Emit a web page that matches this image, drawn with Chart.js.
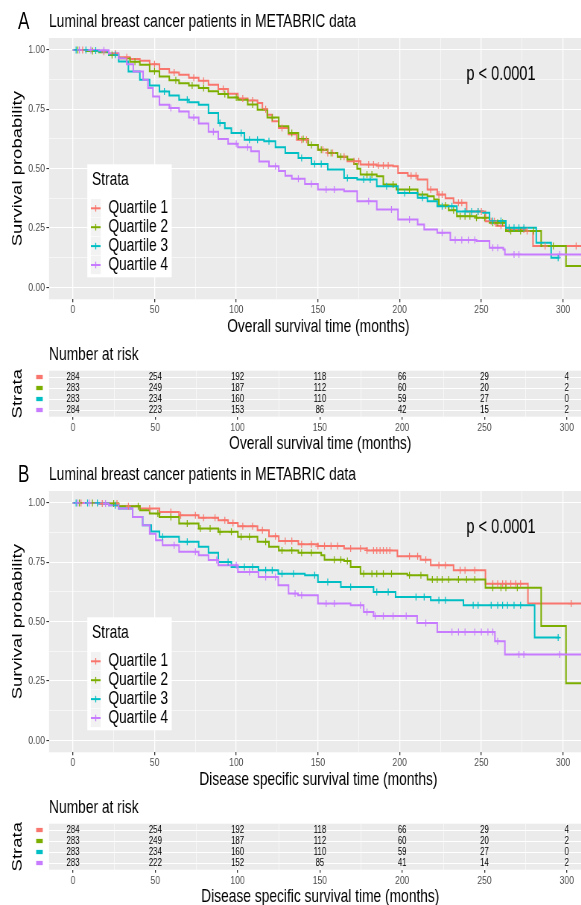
<!DOCTYPE html>
<html>
<head>
<meta charset="utf-8">
<script src="https://cdn.jsdelivr.net/npm/chart.js@4.4.1/dist/chart.umd.min.js"></script>
<style>
  html, body { margin: 0; padding: 0; width: 581px; height: 905px; overflow: hidden; background: #fff; }
  /* the original figure is a wide ggplot squeezed horizontally, so draw wide and squeeze */
  #wrap { position: absolute; left: 0; top: 0; width: 794px; height: 905px; transform: scaleX(0.745); transform-origin: 0 0; }
  canvas { position: absolute; left: 0; }
  .tag { position: absolute; z-index: 2; font: 23px "Liberation Sans", Arial, sans-serif; line-height: 23px; color: #000; }
</style>
</head>
<body>
<div id="wrap">
  <canvas id="kmA" width="794" height="340" style="top:0px"></canvas>
  <canvas id="riskA" width="794" height="113" style="top:340px"></canvas>
  <canvas id="kmB" width="794" height="340" style="top:453px"></canvas>
  <canvas id="riskB" width="794" height="113" style="top:793px"></canvas>
  <div class="tag" style="left:24px; top:10px;">A</div>
  <div class="tag" style="left:24px; top:463px;">B</div>
</div>
<script>
const FONT = '"Liberation Sans", Arial, sans-serif';

// strata + colours (ggplot default hues)
const strata = ['Quartile 1', 'Quartile 2', 'Quartile 3', 'Quartile 4'];
const strataColors = ['#F8766D', '#7CAE00', '#00BFC4', '#C77CFF'];

// axis breaks
const xBreaks = [0, 50, 100, 150, 200, 250, 300];
const xMinor = [25, 75, 125, 175, 225, 275];
const yBreaks = [0, 0.25, 0.5, 0.75, 1];
const yMinor = [0.125, 0.375, 0.625, 0.875];
const riskTimes = [0, 50, 100, 150, 200, 250, 300];

const plotTitle = 'Luminal breast cancer patients in METABRIC data';
const pText = 'p < 0.0001';
const pvalAt = [262, 0.895];

// ---- A: overall survival, [months, survival] knots of each KM step curve
const aQ1 = [[0,1],[9,0.996],[16,0.992],[22,0.985],[28,0.969],[35,0.962],[41,0.954],[47,0.94],[53,0.92],[59,0.905],[65,0.895],[71,0.883],[77,0.87],[83,0.853],[89,0.835],[95,0.815],[101,0.795],[107,0.787],[113,0.776],[116,0.75],[119,0.727],[122,0.70],[126,0.671],[132,0.645],[137,0.622],[144,0.60],[150,0.58],[156,0.566],[162,0.55],[168,0.531],[176,0.517],[186,0.513],[196,0.51],[199,0.482],[205,0.47],[211,0.454],[217,0.412],[223,0.391],[228,0.375],[233,0.356],[241,0.32],[252.5,0.279],[259,0.26],[265,0.244],[277,0.237],[281.6,0.174],[316,0.174]];
const aQ2 = [[0,1],[8,0.995],[16,0.99],[22,0.978],[28,0.965],[35,0.95],[41,0.937],[47,0.91],[53,0.888],[59,0.872],[65,0.86],[71,0.85],[77,0.839],[83,0.826],[89,0.814],[95,0.80],[101,0.79],[107,0.77],[113,0.748],[119,0.715],[126,0.678],[132,0.65],[138,0.625],[144,0.60],[150,0.58],[156,0.566],[162,0.55],[168,0.538],[172,0.52],[174,0.50],[176,0.475],[186,0.468],[190,0.433],[198,0.412],[211,0.391],[217,0.384],[221,0.37],[224,0.345],[230,0.325],[235,0.30],[247,0.293],[255,0.272],[265,0.237],[286.6,0.174],[301.8,0.09],[316,0.09]];
const aQ3 = [[0,1],[10,0.997],[16,0.993],[22,0.979],[28,0.951],[34,0.909],[41,0.874],[47,0.85],[53,0.825],[59,0.808],[65,0.79],[71,0.78],[77,0.769],[83,0.734],[89,0.692],[93,0.67],[97,0.65],[105,0.622],[117,0.615],[124,0.59],[130,0.566],[138,0.545],[146,0.52],[156,0.496],[166,0.461],[174,0.454],[186,0.426],[199,0.398],[211,0.377],[217,0.363],[223,0.342],[235,0.32],[251,0.314],[255,0.28],[265,0.251],[283.6,0.188],[292.7,0.125],[297.8,0.125]];
const aQ4 = [[0,1],[15,0.998],[22,0.985],[28,0.965],[33,0.94],[37,0.909],[43,0.874],[46,0.84],[49,0.804],[53,0.769],[59,0.755],[65,0.741],[71,0.715],[77,0.69],[83,0.655],[89,0.625],[95,0.605],[101,0.59],[109,0.573],[114,0.53],[120,0.51],[126,0.49],[130,0.47],[134,0.457],[142,0.435],[150,0.412],[166,0.405],[174,0.363],[186,0.328],[199,0.286],[211,0.265],[215,0.244],[223,0.23],[231,0.20],[247,0.195],[255,0.167],[263.4,0.16],[264.4,0.139],[316,0.139]];
// censoring times (months)
const aQ1Cens = [6,19,26,33,50,62,74,80,92,104,110,118,128,140,143,153,156,159,166,172,175,181,184,187,190,193,207,210,219,224,226,236,238,248,250,256,258,262,267,276,278,289,308];
const aQ2Cens = [3,12,24,38,50,63,73,80,93,100,110,122,134,141,146,152,158,164,180,183,196,206,214,228,233,237,240,243,247,252,257,260,263,268,274,282,294];
const aQ3Cens = [2,8,14,26,56,70,90,103,108,113,120,140,148,152,168,178,182,192,203,214,226,232,240,244,248,257,262,267,270,273,276,297];
const aQ4Cens = [4,11,19,60,74,86,100,107,124,138,146,155,160,181,195,206,226,234,238,242,246,257,260,270,273,298];

// ---- B: disease specific survival
const bQ1 = [[0,1],[16,0.997],[28,0.986],[41,0.976],[53,0.962],[65,0.948],[77,0.937],[89,0.927],[95,0.915],[101,0.902],[113,0.885],[120,0.86],[126,0.84],[138,0.826],[150,0.818],[166,0.808],[180,0.80],[198.6,0.775],[212.8,0.761],[219,0.737],[233,0.716],[252.5,0.66],[278.5,0.576],[316,0.576]];
const bQ2 = [[0,1],[16,0.997],[28,0.986],[41,0.969],[47,0.955],[53,0.941],[65,0.913],[77,0.892],[89,0.878],[101,0.857],[113,0.836],[120,0.815],[126,0.80],[138,0.79],[152,0.78],[154,0.761],[166,0.755],[170,0.73],[176,0.702],[204.7,0.695],[217,0.677],[252.5,0.643],[286.6,0.482],[301.8,0.241],[316,0.241]];
const bQ3 = [[0,1],[16,0.997],[22,0.99],[28,0.976],[36.6,0.941],[42.7,0.906],[48,0.88],[53,0.857],[65,0.836],[77,0.815],[83,0.79],[89,0.751],[97,0.73],[113.6,0.716],[125.7,0.702],[142,0.695],[150,0.667],[164,0.646],[184,0.625],[197.5,0.604],[219,0.59],[239,0.569],[282.6,0.433],[297.8,0.433]];
const bQ4 = [[0,1],[16,0.997],[22,0.99],[28,0.976],[36.6,0.941],[42.7,0.906],[47,0.87],[50.8,0.843],[54.9,0.822],[65,0.794],[77,0.78],[83,0.76],[89,0.737],[101,0.709],[113.6,0.688],[125.7,0.653],[132,0.618],[137.8,0.611],[150,0.576],[170,0.569],[178,0.541],[184,0.524],[210.7,0.494],[223,0.456],[258.3,0.418],[264.4,0.362],[316,0.362]];
const bQ1Cens = [5,18,27,34,47,60,66,75,80,87,93,98,104,110,116,124,130,134,140,146,150,154,158,162,170,176,180,184,186,188,190,192,194,206,211,216,224,228,237,240,246,257,260,263,265,268,271,274,305];
const bQ2Cens = [4,12,25,40,52,60,70,78,84,90,97,103,108,118,128,134,140,146,160,164,168,178,183,186,190,195,206,213,220,223,226,230,236,241,246,257,262,265,272];
const bQ3Cens = [2,9,15,26,55,70,95,105,110,118,122,128,135,148,156,170,186,193,210,215,224,228,245,248,256,260,263,266,270,274,297];
const bQ4Cens = [3,10,20,62,75,88,100,108,118,124,136,140,155,160,176,180,185,190,196,204,216,232,236,240,246,250,254,257,260,273,276,298];

// ---- numbers at risk
const riskA = [[284,254,192,118,66,29,4],[283,249,187,112,60,20,2],[283,234,160,110,59,27,0],[284,223,153,86,42,15,2]];
const riskB = [[284,254,192,118,66,29,4],[283,249,187,112,60,20,2],[283,234,160,110,59,27,0],[283,222,152,85,41,14,2]];

// value of a KM step curve at time t
function survAt(curve, t) {
    let s = curve[0][1];
    for (const [ct, cs] of curve) {
        if (ct <= t) s = cs; else break;
    }
    return s;
}

const isMajor = (list, v) => list.some(b => Math.abs(b - v) < 1e-9);

const panelBg = {
    id: 'panelBg',
    beforeDraw(chart) {
        const { ctx, chartArea: a } = chart;
        ctx.save();
        ctx.fillStyle = '#EBEBEB';
        ctx.fillRect(a.left, a.top, a.right - a.left, a.bottom - a.top);
        ctx.restore();
    }
};

const pLabel = {
    id: 'pLabel',
    afterDatasetsDraw(chart, args, opts) {
        const { ctx, scales: { x, y } } = chart;
        ctx.save();
        ctx.font = '19.5px ' + FONT;
        ctx.fillStyle = '#000';
        ctx.textAlign = 'center';
        ctx.textBaseline = 'middle';
        ctx.fillText(opts.text, x.getPixelForValue(opts.at[0]), y.getPixelForValue(opts.at[1]));
        ctx.restore();
    }
};

// legend box sitting inside the panel
const strataLegend = {
    id: 'strataLegend',
    afterDatasetsDraw(chart) {
        const { ctx, chartArea: a } = chart;
        const bx = a.left + 51.4, by = a.top + 126.3;
        ctx.save();
        ctx.fillStyle = '#FFFFFF';
        ctx.fillRect(bx, by, 113.3, 113);
        ctx.font = '18.5px ' + FONT;
        ctx.textAlign = 'left';
        ctx.textBaseline = 'middle';
        ctx.fillStyle = '#000';
        ctx.fillText('Strata', bx + 6.3, by + 15.7);
        strata.forEach((name, i) => {
            const cy = by + 44 + i * 18.9;
            ctx.fillStyle = '#F2F2F2';
            ctx.fillRect(bx + 4.6, cy - 9.2, 13.4, 18.4);
            ctx.strokeStyle = strataColors[i];
            ctx.lineWidth = 2;
            ctx.beginPath(); ctx.moveTo(bx + 4.8, cy); ctx.lineTo(bx + 17.8, cy); ctx.stroke();
            ctx.lineWidth = 1.3;
            ctx.beginPath(); ctx.moveTo(bx + 11.3, cy - 3.3); ctx.lineTo(bx + 11.3, cy + 3.3); ctx.stroke();
            ctx.fillStyle = '#000';
            ctx.fillText(name, bx + 28.2, cy);
        });
        ctx.restore();
    }
};

// numbers at risk, placed on the points of the (invisible) dataset
const riskText = {
    id: 'riskText',
    afterDatasetsDraw(chart) {
        const { ctx } = chart;
        const meta = chart.getDatasetMeta(0);
        const data = chart.data.datasets[0].data;
        ctx.save();
        ctx.font = '10.5px ' + FONT;
        ctx.fillStyle = '#000';
        ctx.textAlign = 'center';
        ctx.textBaseline = 'middle';
        meta.data.forEach((pt, k) => ctx.fillText(String(data[k].n), pt.x, pt.y));
        ctx.restore();
    }
};

function xScale(title, height, titlePad) {
    return {
        type: 'linear',
        min: -14.58,
        max: 315.06,
        afterBuildTicks: s => { s.ticks = xBreaks.concat(xMinor).sort((a, b) => a - b).map(v => ({ value: v })); },
        afterFit: s => { s.height = height; },
        ticks: {
            autoSkip: false, maxRotation: 0, padding: 1,
            color: '#4D4D4D', font: { family: FONT, size: 11.5 },
            callback: v => isMajor(xBreaks, v) ? String(v) : ''
        },
        grid: {
            color: '#FFFFFF',
            lineWidth: c => isMajor(xBreaks, c.tick.value) ? 1.3 : 0.65,
            tickLength: 3,
            tickColor: c => isMajor(xBreaks, c.tick.value) ? '#333333' : 'rgba(0,0,0,0)'
        },
        border: { display: false },
        title: {
            display: true, text: title, color: '#000',
            font: { family: FONT, size: 18.5 },
            padding: { top: 0, bottom: titlePad }
        }
    };
}

function kmDatasets(curves, censors) {
    const ds = [];
    curves.forEach((c, i) => {
        ds.push({
            label: strata[i],
            data: c.map(p => ({ x: p[0], y: p[1] })),
            showLine: true,
            stepped: 'before',
            borderColor: strataColors[i],
            borderWidth: 2,
            pointRadius: 0,
            fill: false,
            order: 10 - i
        });
    });
    censors.forEach((cs, i) => {
        ds.push({
            label: strata[i] + ' censored',
            data: cs.map(t => ({ x: t, y: survAt(curves[i], t) })),
            showLine: false,
            pointStyle: 'cross',
            pointRadius: 3.5,
            borderColor: strataColors[i],
            borderWidth: 1.2,
            order: 4 - i
        });
    });
    return ds;
}

function kmChart(id, curves, censors, xTitle) {
    return new Chart(document.getElementById(id), {
        type: 'scatter',
        data: { datasets: kmDatasets(curves, censors) },
        options: {
            responsive: false,
            animation: false,
            events: [],
            layout: { padding: 0 },
            plugins: {
                legend: { display: false },
                tooltip: { enabled: false },
                title: {
                    display: true, text: plotTitle, align: 'start', fullSize: false,
                    color: '#000', font: { family: FONT, size: 18.5, weight: 'normal' },
                    padding: { top: 10.9, bottom: 4.9 }
                },
                pLabel: { text: pText, at: pvalAt }
            },
            scales: {
                x: xScale(xTitle, 40.7, 2.2),
                y: {
                    type: 'linear',
                    min: -0.05,
                    max: 1.05,
                    afterBuildTicks: s => { s.ticks = yBreaks.concat(yMinor).sort((a, b) => a - b).map(v => ({ value: v })); },
                    afterFit: s => { s.width = 65.8; },
                    ticks: {
                        autoSkip: false, padding: 2, color: '#4D4D4D', font: { family: FONT, size: 11.5 },
                        callback: v => isMajor(yBreaks, v) ? v.toFixed(2) : ''
                    },
                    grid: {
                        color: '#FFFFFF',
                        lineWidth: c => isMajor(yBreaks, c.tick.value) ? 1.1 : 0.55,
                        tickLength: 3.5,
                        tickColor: c => isMajor(yBreaks, c.tick.value) ? '#333333' : 'rgba(0,0,0,0)'
                    },
                    border: { display: false },
                    title: {
                        display: true, text: 'Survival probability', color: '#000',
                        font: { family: FONT, size: 18.5 },
                        padding: { top: 13.1, bottom: 0 }
                    }
                }
            }
        },
        plugins: [panelBg, pLabel, strataLegend]
    });
}

function riskChart(id, rows, xTitle) {
    const pts = [];
    rows.forEach((row, i) => row.forEach((n, j) => pts.push({ x: riskTimes[j], y: i + 1, n: n })));
    return new Chart(document.getElementById(id), {
        type: 'scatter',
        data: { datasets: [{ label: 'at risk', data: pts, pointRadius: 0 }] },
        options: {
            responsive: false,
            animation: false,
            events: [],
            layout: { padding: 0 },
            plugins: {
                legend: { display: false },
                tooltip: { enabled: false },
                title: {
                    display: true, text: 'Number at risk', align: 'start', fullSize: false,
                    color: '#000', font: { family: FONT, size: 18.5, weight: 'normal' },
                    padding: { top: 3.4, bottom: 5.1 }
                }
            },
            scales: {
                x: xScale(xTitle, 36.3, -2),
                y: {
                    type: 'linear',
                    min: 0.4,
                    max: 4.6,
                    reverse: true,
                    afterBuildTicks: s => { s.ticks = [1, 2, 3, 4].map(v => ({ value: v })); },
                    afterFit: s => { s.width = 65.8; },
                    ticks: {
                        autoSkip: false,
                        padding: 7.5,
                        font: { family: '"DejaVu Sans"', size: 11.5 },
                        color: c => strataColors[c.index],
                        callback: () => '\u25AC'
                    },
                    grid: { color: '#FFFFFF', lineWidth: 1.1, drawTicks: false },
                    border: { display: false },
                    title: {
                        display: true, text: 'Strata', color: '#000',
                        font: { family: FONT, size: 18.5 },
                        padding: { top: 12.8, bottom: 0 }
                    }
                }
            }
        },
        plugins: [panelBg, riskText]
    });
}

kmChart('kmA', [aQ1, aQ2, aQ3, aQ4], [aQ1Cens, aQ2Cens, aQ3Cens, aQ4Cens], 'Overall survival time (months)');
riskChart('riskA', riskA, 'Overall survival time (months)');
kmChart('kmB', [bQ1, bQ2, bQ3, bQ4], [bQ1Cens, bQ2Cens, bQ3Cens, bQ4Cens], 'Disease specific survival time (months)');
riskChart('riskB', riskB, 'Disease specific survival time (months)');
</script>
</body>
</html>
